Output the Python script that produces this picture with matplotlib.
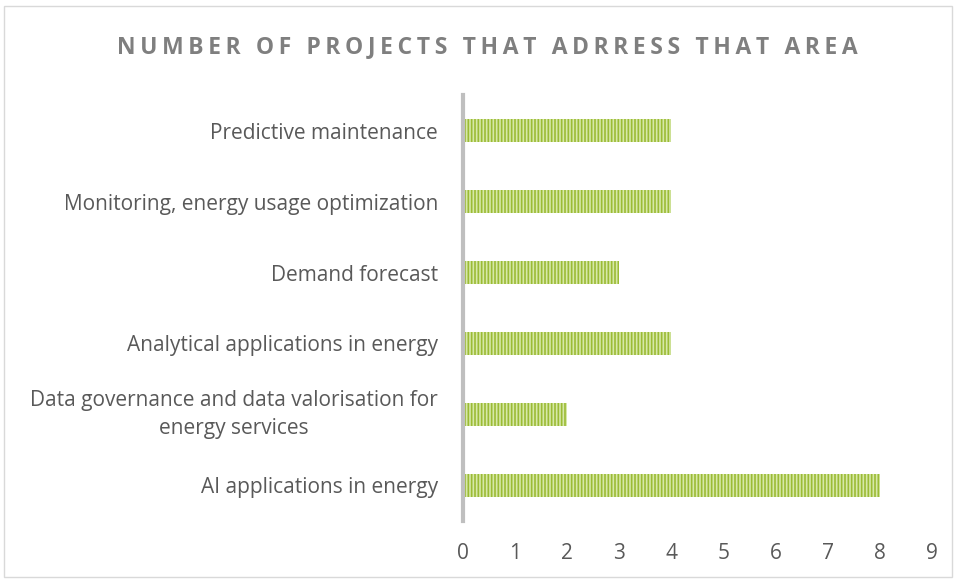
import matplotlib.pyplot as plt
from matplotlib.patches import Rectangle

categories = [
    'AI applications in energy',
    'Data governance and data valorisation for\nenergy services',
    'Analytical applications in energy',
    'Demand forecast',
    'Monitoring, energy usage optimization',
    'Predictive maintenance',
]
values = [8, 2, 4, 3, 4, 4]
title = 'NUMBER OF PROJECTS THAT ADRRESS THAT AREA'

plt.rcParams['font.family'] = ['Open Sans', 'DejaVu Sans']
plt.rcParams['hatch.linewidth'] = 1.2

fig = plt.figure(figsize=(9.56, 5.81), dpi=100)
# chart border
fig.patches.append(Rectangle((4 / 956, 4 / 581), 948 / 956, 571 / 581,
                             transform=fig.transFigure, fill=False,
                             edgecolor='#d9d9d9', linewidth=1))

ax = fig.add_axes([463 / 956, 60 / 581, 469 / 956, 426 / 581])
y = range(len(categories))
ax.barh(y, values, height=0.31, color='#d7e8a8', edgecolor='#9bbb35',
        hatch='|||||', linewidth=0)

ax.set_xlim(0, 9)
ax.set_ylim(-0.5, len(categories) - 0.5)
ax.set_xticks(range(10))
ax.set_yticks(list(y))
ax.set_yticklabels(categories, fontsize=15, color='#595959')
for t in ax.get_yticklabels():
    t.set_horizontalalignment('right')
    if '\n' in t.get_text():
        t.set_verticalalignment('center')
    t.set_multialignment('center')
    t.set_linespacing(1.45)
ax.tick_params(axis='x', labelsize=15, labelcolor='#595959', length=0, pad=16)
ax.tick_params(axis='y', length=0, pad=18)
for s in ['top', 'right', 'bottom']:
    ax.spines[s].set_visible(False)
ax.spines['left'].set_color('#bfbfbf')
ax.spines['left'].set_linewidth(3)

spaced = '\u2009'.join(title)
fig.text(487 / 956, 1 - 47 / 581, spaced, ha='center', va='center',
         fontsize=16.5, fontweight='bold', color='#7f7f7f')

fig.savefig('out.png', dpi=100)
